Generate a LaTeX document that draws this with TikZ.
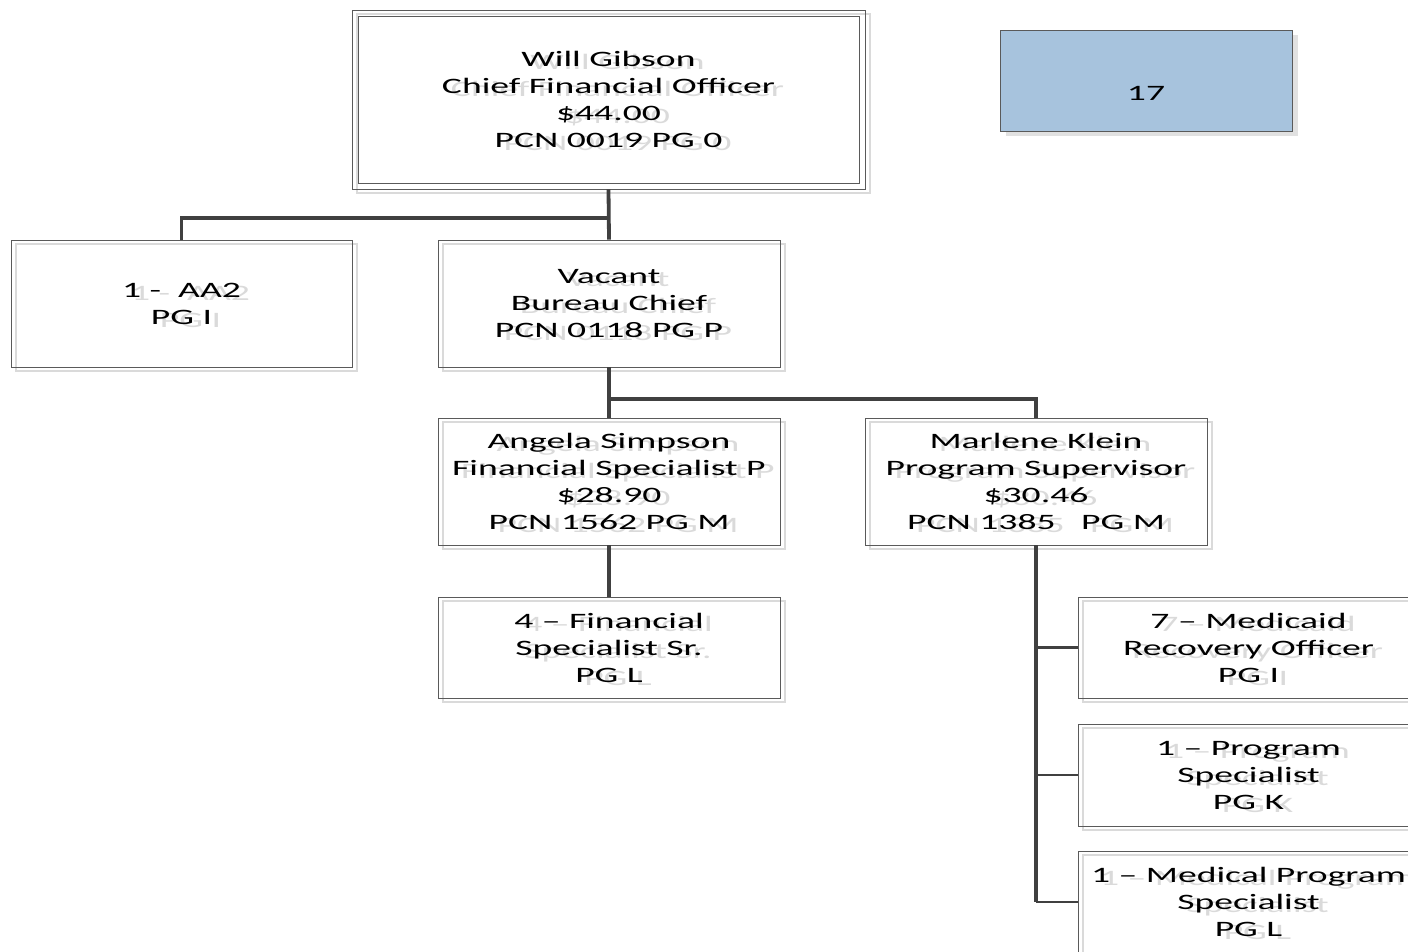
\documentclass[tikz,border=0pt]{standalone}
\usepackage{fontspec}
\setmainfont{Carlito}[FakeStretch=1.71]
\definecolor{linegray}{HTML}{404040}
\definecolor{framegray}{HTML}{5A5A5A}
\definecolor{ghost}{HTML}{DADADA}
\definecolor{headblue}{HTML}{A7C3DD}

% One org-chart box: shadow outline, shadow text, then the box itself.
% #1 name, #2 centre, #3 width, #4 height, #5 text
\newcommand\orgunit[5]{%
  \node[shadowframe, minimum width=#3pt, minimum height=#4pt] (#1-sf) at ([shift={(5,4)}]#2) {};
  \node[shadowtext] (#1-st) at ([shift={(9,3)}]#2) {#5};
  \node[unitbox, minimum width=#3pt, minimum height=#4pt] (#1) at (#2) {#5};
}

\begin{document}
\begin{tikzpicture}[x=1pt, y=-1pt,
  labelfont/.style={font=\fontsize{22}{27}\selectfont, align=center},
  unitbox/.style={draw=framegray, line width=0.9pt, inner sep=0pt, labelfont, text=black},
  shadowframe/.style={draw=ghost, line width=1.6pt, inner sep=0pt},
  shadowtext/.style={labelfont, text=ghost, inner sep=0pt},
  conn/.style={draw=linegray, line width=3.8pt},
  branch/.style={draw=linegray, line width=2.3pt},
]
\clip (0,0) rectangle (1408,952);
\fill[white] (0,0) rectangle (1408,952);

% head box with double frame
\node[shadowframe, minimum width=513pt, minimum height=179pt] (cfo-sf) at (613.5,103.5) {};
\node[draw=framegray, line width=0.9pt, minimum width=501pt, minimum height=167pt] (cfo-inner) at (608.5,99.5) {};
\node[shadowtext] (cfo-st) at (617.5,102.5) {Will Gibson\\Chief Financial Officer\\\$44.00\\PCN 0019 PG 0};
\node[unitbox, minimum width=513pt, minimum height=179pt] (cfo) at (608.5,99.5) {Will Gibson\\Chief Financial Officer\\\$44.00\\PCN 0019 PG 0};

% headcount box
\fill[ghost!80] (1006,35) rectangle (1298,136);
\node[draw=framegray, line width=0.9pt, fill=headblue, minimum width=292pt, minimum height=101pt] (count) at (1146,80.5) {};
\node[labelfont] (count-text) at (1146,93) {17};

\orgunit{aa2}{181.5,303.5}{341}{127}{1 -\ \ AA2\\PG I}
\orgunit{vacant}{609,303.5}{342}{127}{Vacant\\Bureau Chief\\PCN 0118 PG P}
\orgunit{angela}{609,481.5}{342}{127}{Angela Simpson\\Financial Specialist P\\\$28.90\\PCN 1562 PG M}
\orgunit{marlene}{1036,481.5}{342}{127}{Marlene Klein\\Program Supervisor\\\$30.46\\PCN 1385\ \ \ PG M}
\orgunit{finsr}{609,647.5}{342}{101}{4 – Financial\\Specialist Sr.\\PG L}
\orgunit{medicaid}{1248.5,647.5}{341}{101}{7 – Medicaid\\Recovery Officer\\PG I}
\orgunit{progspec}{1248.5,775}{341}{102}{1 – Program\\Specialist\\PG K}
\orgunit{medprog}{1248.5,902}{341}{102}{1 – Medical Program\\Specialist\\PG L}

% connectors
\coordinate (busA) at (609,218);
\coordinate (busB) at (609,399);
\draw[conn] (cfo.south) -- (vacant.north);
\draw[conn] (aa2.north) |- (busA);
\draw[conn] (vacant.south) -- (angela.north);
\draw[conn] (marlene.north) |- (busB);
\draw[conn] (angela.south) -- (finsr.north);
\draw[conn] (marlene.south) -- (marlene.south |- medprog.west);
\draw[branch] (marlene.south |- medicaid.west) -- (medicaid.west);
\draw[branch] (marlene.south |- progspec.west) -- (progspec.west);
\draw[branch] (marlene.south |- medprog.west) -- (medprog.west);
\end{tikzpicture}
\end{document}
